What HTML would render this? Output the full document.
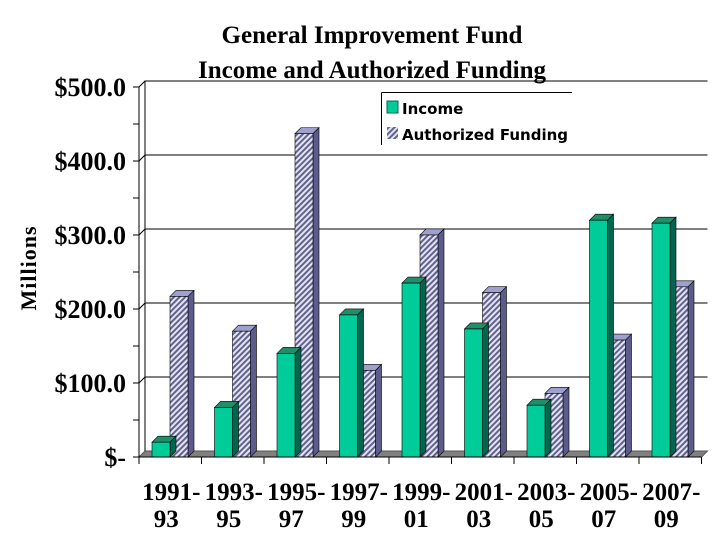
<!DOCTYPE html>
<html><head><meta charset="utf-8"><style>
html,body{margin:0;padding:0;background:#fff;}
svg{display:block;}
.t{font-family:"Liberation Serif",serif;font-weight:bold;}
</style></head><body>
<svg id="chart" width="720" height="540">
<defs>
<pattern id="hatch" width="4" height="4" patternUnits="userSpaceOnUse" patternTransform="rotate(45)">
<rect width="4" height="4" fill="#e4e4f2"/><rect width="2" height="4" fill="#62628f"/>
</pattern>
</defs>
<text class="t" x="372" y="43" font-size="25" text-anchor="middle">General Improvement Fund</text>
<text class="t" x="372" y="78" font-size="25" text-anchor="middle">Income and Authorized Funding</text>
<text class="t" x="36" y="268" font-size="22" text-anchor="middle" transform="rotate(-90 36 268)" letter-spacing="1">Millions</text>
<g id="grid"></g>
<g id="bars"></g>
<g id="axes"></g>
<g>
<line x1="381.5" y1="92.5" x2="572" y2="92.5" stroke="#000"/>
<line x1="381.5" y1="92.5" x2="381.5" y2="145" stroke="#000"/>
<rect x="387" y="101" width="11" height="12" fill="#00cc99" stroke="#006650"/>
<text x="402" y="114" font-family="DejaVu Sans,sans-serif" font-weight="bold" font-size="15">Income</text>
<rect x="387" y="127" width="11" height="12" fill="url(#hatch)"/>
<text x="402" y="140" font-family="DejaVu Sans,sans-serif" font-weight="bold" font-size="15">Authorized Funding</text>
</g>
</svg>
<script>
const categoriesTop = ["1991-","1993-","1995-","1997-","1999-","2001-","2003-","2005-","2007-"];
const categoriesBottom = ["93","95","97","99","01","03","05","07","09"];
const income = [20, 67, 140, 192, 235, 173, 70, 320, 316];
const authorized = [217, 170, 437, 117, 300, 222, 86, 158, 230];
const yTicks = [0, 100, 200, 300, 400, 500];
const yTickLabels = ["$-", "$100.0", "$200.0", "$300.0", "$400.0", "$500.0"];

const NS = "http://www.w3.org/2000/svg";
const x0 = 139, catW = 62.5, y0 = 457, pxPer = 0.74, D = 6;
const y = v => y0 - v * pxPer;
const xc = i => x0 + i * catW;
function mk(tag, attrs, parent) {
  const e = document.createElementNS(NS, tag);
  for (const k in attrs) e.setAttribute(k, attrs[k]);
  parent.appendChild(e);
  return e;
}
const grid = document.getElementById("grid"), bars = document.getElementById("bars"), axes = document.getElementById("axes");
const xEnd = x0 + categoriesTop.length * catW;
yTicks.forEach((v, i) => {
  if (v === 0) return;
  const g = mk("polyline", {points: `${x0},${y(v)} ${x0+D},${y(v)-D} ${xEnd+D},${y(v)-D}`, fill: "none", stroke: "#000", "stroke-width": 1}, grid);
  
  
});
const fl = mk("polygon", {points: `${x0},${y0} ${x0+D},${y0-D} ${xEnd+D},${y0-D} ${xEnd},${y0}`, fill: "#808080", stroke: "#555"}, grid);


mk("line", {x1: x0+D, y1: y(500)-D, x2: x0+D, y2: y0-D, stroke: "#000"}, grid);
mk("line", {x1: x0+D, y1: y(500)-D, x2: xEnd+D, y2: y(500)-D, stroke: "#000"}, grid);

function bar(x, w, v, front, top, side, name) {
  const yt = y(v);
  const g = mk("g", {}, bars);
  
  
  mk("polygon", {points: `${x},${yt} ${x+D},${yt-D} ${x+w+D},${yt-D} ${x+w},${yt}`, fill: top, stroke: "#000", "stroke-width": 0.6}, g);
  mk("polygon", {points: `${x+w},${yt} ${x+w+D},${yt-D} ${x+w+D},${y0-D} ${x+w},${y0}`, fill: side, stroke: "#000", "stroke-width": 0.6}, g);
  mk("rect", {x: x, y: yt, width: w, height: y0 - yt, fill: front, stroke: "#000", "stroke-width": 0.6}, g);
}
categoriesTop.forEach((c, i) => {
  const bx = xc(i) + 13;
  bar(bx + 18, 18, authorized[i], "url(#hatch)", "#a0a0d0", "#5c5c8c", "bar-authorized-" + i);
  bar(bx, 18, income[i], "#00cc99", "#1f8f6a", "#006650", "bar-income-" + i);
});
mk("line", {x1: x0, y1: y(500), x2: x0, y2: y0, stroke: "#000"}, axes);
mk("line", {x1: x0, y1: y0, x2: xEnd, y2: y0, stroke: "#000"}, axes);
for (let v = 0; v <= 500; v += 50) mk("line", {x1: x0-6, y1: y(v), x2: x0, y2: y(v), stroke: "#000"}, axes);
yTicks.forEach((v, i) => {
  const t = mk("text", {x: 126, y: y(v) + 9, "font-size": 26, "text-anchor": "end", class: "t"}, axes);
  t.textContent = yTickLabels[i];
  
  
});
for (let i = 0; i <= categoriesTop.length; i++) mk("line", {x1: xc(i), y1: y0, x2: xc(i), y2: y0+7, stroke: "#000"}, axes);
categoriesTop.forEach((c, i) => {
  const cx = xc(i) + catW/2 + 1;
  const a = mk("text", {x: cx, y: 500, "font-size": 25, "text-anchor": "middle", class: "t"}, axes);
  a.textContent = c;
  
  
  const b = mk("text", {x: cx - 5, y: 527, "font-size": 25, "text-anchor": "middle", class: "t"}, axes);
  b.textContent = categoriesBottom[i];
  
  
});
</script>
</body></html>
